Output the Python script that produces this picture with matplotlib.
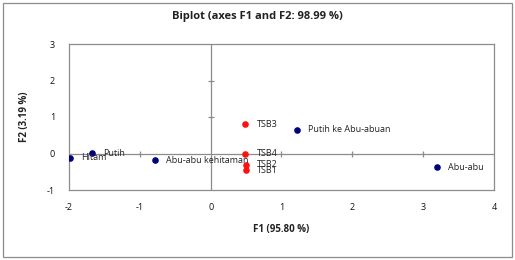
import matplotlib

matplotlib.use("Agg")

import matplotlib.pyplot as plt  # noqa: E402
from matplotlib.patches import Rectangle  # noqa: E402

NAVY = "#00007a"
RED = "#ff1010"
GRID = "#8c8c8c"
TEXT = "#222222"

plt.rcParams["font.family"] = ["Open Sans", "DejaVu Sans"]
plt.rcParams["axes.unicode_minus"] = False

# --- Observations (colour classes) ---
obs_labels = ["Hitam", "Putih", "Abu-abu kehitaman", "Putih ke Abu-abuan", "Abu-abu"]
obs_f1 = [-1.99, -1.67, -0.79, 1.22, 3.20]
obs_f2 = [-0.11, 0.01, -0.19, 0.65, -0.38]

# --- Variables (samples) ---
var_labels = ["TSB3", "TSB4", "TSB2", "TSB1"]
var_f1 = [0.49, 0.49, 0.50, 0.50]
var_f2 = [0.80, 0.00, -0.31, -0.46]

x_ticks = [-2, -1, 0, 1, 2, 3, 4]
y_ticks = [-1, 0, 1, 2, 3]


def main():
    fig = plt.figure(figsize=(5.15, 2.6), dpi=100)
    ax = fig.add_axes([69 / 515, 1 - 190 / 260, 425 / 515, 146 / 260])

    ax.set_xlim(-2, 4)
    ax.set_ylim(-1, 3)
    ax.set_xticks(x_ticks)
    ax.set_yticks(y_ticks)
    ax.tick_params(length=0, labelsize=6.5, colors="#111111", pad=10)
    ax.tick_params(axis="x", pad=9)
    for sp in ax.spines.values():
        sp.set_color(GRID)
        sp.set_linewidth(0.9)

    # inner axes through origin with small cross ticks
    ax.axhline(0, color=GRID, linewidth=0.9, zorder=1)
    ax.axvline(0, color=GRID, linewidth=0.9, zorder=1)
    xt = [t for t in x_ticks if t not in (-2, 0, 4)]
    yt = [t for t in y_ticks if t not in (-1, 0, 3)]
    ax.plot(xt, [0] * len(xt), linestyle="none", marker="|", markersize=4.5,
            color=GRID, markeredgewidth=0.9, zorder=1)
    ax.plot([0] * len(yt), yt, linestyle="none", marker="_", markersize=4.5,
            color=GRID, markeredgewidth=0.9, zorder=1)

    ax.scatter(obs_f1, obs_f2, s=14, color=NAVY, zorder=3)
    ax.scatter(var_f1, var_f2, s=14, color=RED, zorder=3)

    for x, y, lab in zip(obs_f1, obs_f2, obs_labels):
        ax.annotate(lab, (x, y), xytext=(8, 0), textcoords="offset points",
                    fontsize=6.5, va="center", ha="left", color=TEXT, zorder=4)
    for x, y, lab in zip(var_f1, var_f2, var_labels):
        ax.annotate(lab, (x, y), xytext=(8, 0), textcoords="offset points",
                    fontsize=6.5, va="center", ha="left", color=TEXT, zorder=4)

    ax.set_xlabel("F1 (95.80 %)", fontsize=7, fontweight="bold", color=TEXT,
                  labelpad=9)
    ax.set_ylabel("F2 (3.19 %)", fontsize=7, fontweight="bold", color=TEXT,
                  labelpad=12)
    fig.text(0.5, 1 - 17 / 260, "Biplot (axes F1 and F2: 98.99 %)",
             ha="center", va="center", fontsize=8, fontweight="bold", color=TEXT)

    # outer chart border
    fig.patches.append(Rectangle((3 / 515, 3 / 260), 509 / 515, 254 / 260,
                                 transform=fig.transFigure, fill=False,
                                 edgecolor=GRID, linewidth=0.9))

    fig.savefig("out.png", dpi=100, facecolor="white")
    plt.close(fig)


if __name__ == "__main__":
    main()
